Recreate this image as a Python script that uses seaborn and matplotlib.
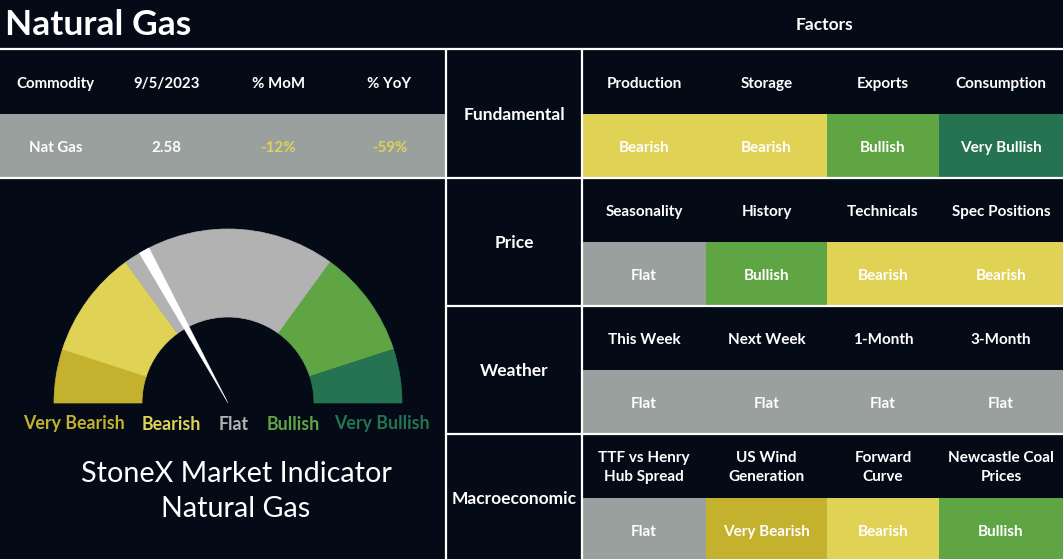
import numpy as np
import matplotlib
matplotlib.use("Agg")
import matplotlib.pyplot as plt
import seaborn as sns
from matplotlib.colors import ListedColormap
from matplotlib.patches import Wedge, Polygon, Rectangle

# ---- data ----
sentiments = ["Very Bearish", "Bearish", "Flat", "Bullish", "Very Bullish"]
gauge_shares = [10, 20, 40, 20, 10]
needle_value = 34  # 0..100 on the gauge

commodity_cols = ["Commodity", "9/5/2023", "% MoM", "% YoY"]
commodity_vals = ["Nat Gas", "2.58", "-12%", "-59%"]

factor_groups = ["Fundamental", "Price", "Weather", "Macroeconomic"]
factor_names = [
    ["Production", "Storage", "Exports", "Consumption"],
    ["Seasonality", "History", "Technicals", "Spec Positions"],
    ["This Week", "Next Week", "1-Month", "3-Month"],
    ["TTF vs Henry\nHub Spread", "US Wind\nGeneration", "Forward\nCurve", "Newcastle Coal\nPrices"],
]
factor_signals = [
    ["Bearish", "Bearish", "Bullish", "Very Bullish"],
    ["Flat", "Bullish", "Bearish", "Bearish"],
    ["Flat", "Flat", "Flat", "Flat"],
    ["Flat", "Very Bearish", "Bearish", "Bullish"],
]

# ---- style ----
BG = "#040b17"
GREY_CELL = "#9aa09e"
GAUGE_GREY = "#b2b2b2"
sent_colors = ["#c4b12e", "#e0d254", GAUGE_GREY, "#5fa544", "#267352"]
cell_colors = ["#c4b12e", "#e0d254", GREY_CELL, "#5fa544", "#267352", BG]

sns.set_theme(style="white")
plt.rcParams["font.family"] = ["Lato", "DejaVu Sans"]

W, H = 1063, 559
fig = plt.figure(figsize=(W / 100, H / 100), dpi=100, facecolor=BG)

main = fig.add_axes([0, 0, 1, 1], zorder=2)
main.set_xlim(0, W)
main.set_ylim(H, 0)
main.patch.set_alpha(0)
main.axis("off")

# ---- factor grid as seaborn heatmaps (one per column, widths differ) ----
col_edges = [582, 706, 827, 939, 1063]
grid_top, row_h = 50, 64
n_rows = 2 * len(factor_groups)
cmap = ListedColormap(cell_colors)
for j in range(4):
    codes = np.zeros((n_rows, 1))
    labels = np.empty((n_rows, 1), dtype=object)
    for i in range(len(factor_groups)):
        codes[2 * i, 0] = 5
        labels[2 * i, 0] = factor_names[i][j]
        codes[2 * i + 1, 0] = sentiments.index(factor_signals[i][j])
        labels[2 * i + 1, 0] = factor_signals[i][j]
    x0, x1 = col_edges[j], col_edges[j + 1]
    y1 = grid_top + n_rows * row_h
    hax = fig.add_axes([x0 / W, 1 - y1 / H, (x1 - x0) / W, n_rows * row_h / H], zorder=1)
    sns.heatmap(codes, ax=hax, cmap=cmap, vmin=-0.5, vmax=5.5, cbar=False,
                annot=labels, fmt="", xticklabels=False, yticklabels=False,
                linewidths=0,
                annot_kws=dict(color="white", fontsize=11, fontweight="bold",
                               linespacing=1.45))
    # nudge labels down a couple of pixels
    for t in hax.texts:
        tx, ty = t.get_position()
        t.set_position((tx, ty + 0.03))
    hax.axis("off")

# ---- titles ----
main.text(5, 25, "Natural Gas", color="white", fontsize=25.5, fontweight="bold",
          ha="left", va="center")
main.text(824, 25, "Factors", color="white", fontsize=12.5, fontweight="bold",
          ha="center", va="center")

# group labels
for i, g in enumerate(factor_groups):
    yc = grid_top + (2 * i + 1) * row_h
    main.text(514, yc + 1, g, color="white", fontsize=12.5, fontweight="bold",
              ha="center", va="center")

# ---- commodity table ----
left_w = 445
cw = left_w / len(commodity_cols)
main.add_patch(Rectangle((0, 114), left_w, 63, color=GREY_CELL, lw=0))
val_colors = ["white", "white", sent_colors[1], sent_colors[1]]
for k, (c, v) in enumerate(zip(commodity_cols, commodity_vals)):
    xc = cw * (k + 0.5)
    main.text(xc, 84, c, color="white", fontsize=10.8, fontweight="bold",
              ha="center", va="center")
    main.text(xc, 148, v, color=val_colors[k], fontsize=10.8, fontweight="bold",
              ha="center", va="center")

# ---- gauge ----
cx, cy, r_out, r_in = 228, 403, 174, 86
start = 180.0
for share, col in zip(gauge_shares, sent_colors):
    span = share * 1.8
    a_hi, a_lo = start, start - span
    main.add_patch(Wedge((cx, cy), r_out, -a_hi, -a_lo, width=r_out - r_in,
                         facecolor=col, edgecolor=col, lw=0.5))
    start = a_lo

phi = np.deg2rad(180 - needle_value * 1.8)
d = np.array([np.cos(phi), -np.sin(phi)])
nrm = np.array([-d[1], d[0]])
base = np.array([cx, cy]) + d * r_out
needle = np.array([[cx, cy], base + nrm * 5.5, base - nrm * 5.5])
main.add_patch(Polygon(needle, closed=True, facecolor="white", edgecolor="white", lw=0.3))

label_x = [74, 171, 234, 293, 382]
for s, x, col in zip(sentiments, label_x, sent_colors):
    main.text(x, 424, s, color=col, fontsize=12.8, fontweight="bold",
              ha="center", va="center")

main.text(236, 474, "StoneX Market Indicator", color="white", fontsize=20.7,
          ha="center", va="center")
main.text(236, 509, "Natural Gas", color="white", fontsize=20.7,
          ha="center", va="center")

# ---- white rules ----
lw = 1.6
main.plot([0, W], [49, 49], color="white", lw=lw)
main.plot([0, W], [178, 178], color="white", lw=lw)
for y in (306, 434):
    main.plot([446, W], [y, y], color="white", lw=lw)
for x in (446, 582):
    main.plot([x, x], [49, H], color="white", lw=lw)

fig.savefig("out.png", dpi=100, facecolor=BG)
